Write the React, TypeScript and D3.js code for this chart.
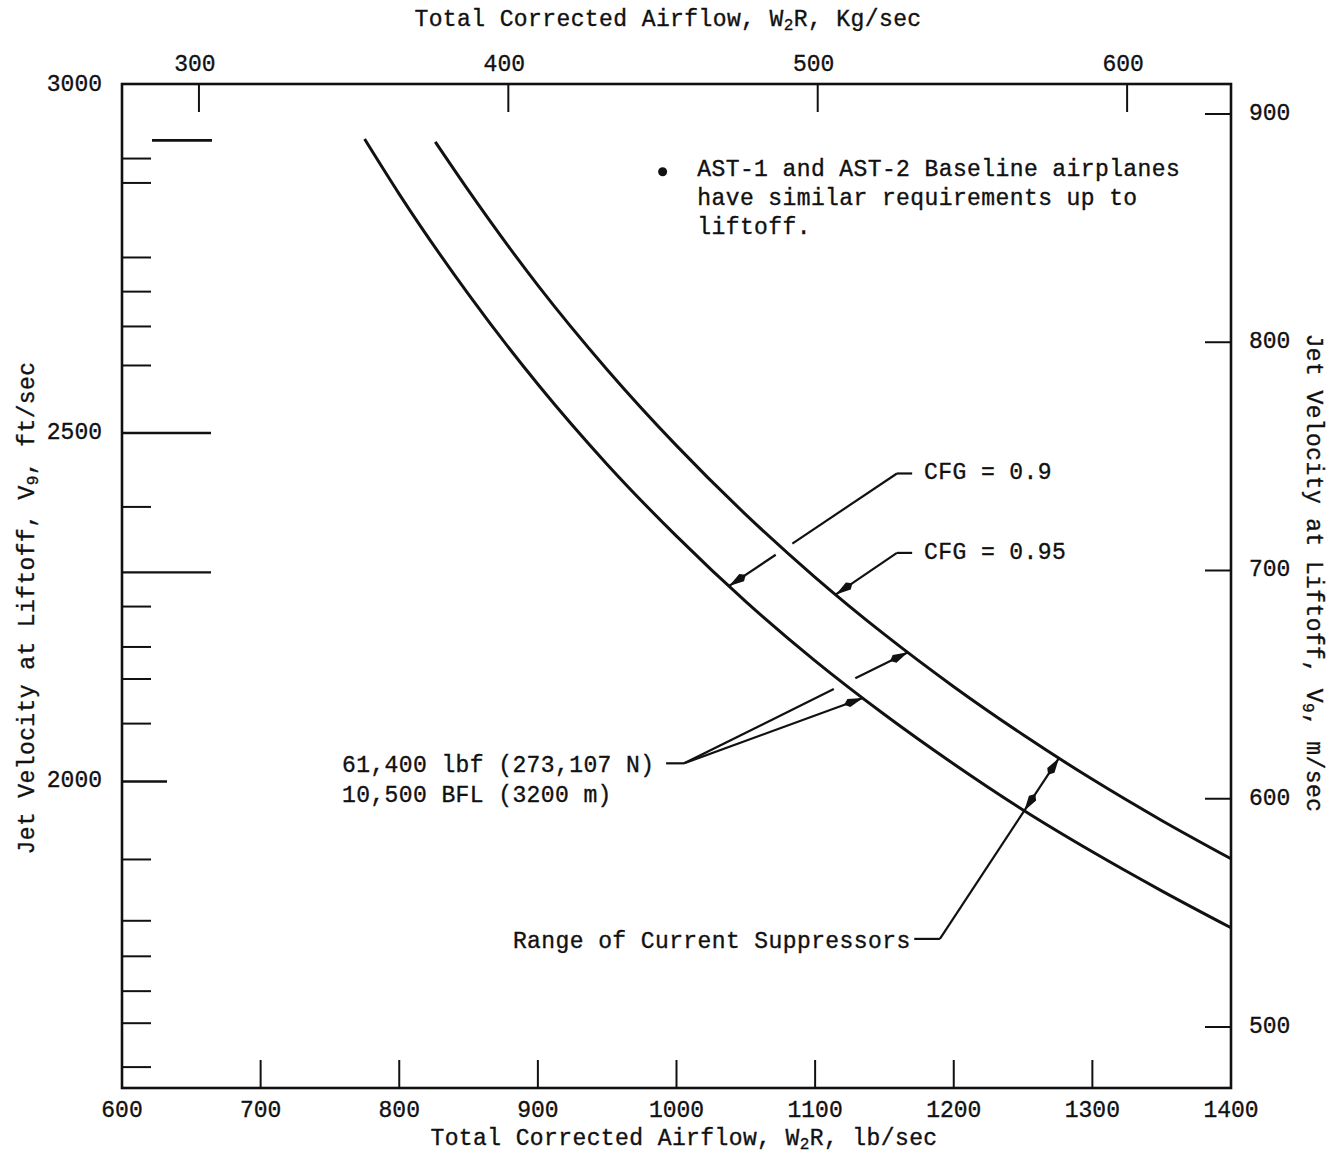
import React from 'react';
import * as d3 from 'd3';

// ---------- data ----------
const bottomTickLabels = [600, 700, 800, 900, 1000, 1100, 1200, 1300, 1400];
const bottomTickMarks = [700, 800, 900, 1000, 1100, 1200, 1300];
const topTickLabels = [300, 400, 500, 600];
const rightTickLabels = [900, 800, 700, 600, 500];
const leftTickLabels = [3000, 2500, 2000];
const leftShortTicks = [2894, 2859, 2752, 2703, 2653, 2597, 2394, 2251, 2193, 2147, 2083, 1888, 1800, 1749, 1699, 1653, 1590];
const leftLongTicks = [2500, 2300];
const leftMidTicks = [2000];
const leftDashTicks = [2920];

// CFG = 0.9 (lower curve): airflow lb/sec, jet velocity ft/sec
const cfg09Airflow = [775, 800, 850, 900, 950, 1000, 1050, 1100, 1150, 1200, 1250, 1300, 1350, 1400];
const cfg09Velocity = [2922, 2843, 2699, 2570, 2455, 2352, 2258, 2173, 2096, 2025, 1959, 1899, 1843, 1790];
// CFG = 0.95 (upper curve)
const cfg095Airflow = [826, 850, 900, 950, 1000, 1050, 1100, 1150, 1200, 1250, 1300, 1350, 1400];
const cfg095Velocity = [2918, 2848, 2712, 2591, 2482, 2383, 2293, 2211, 2136, 2067, 2003, 1944, 1889];

const noteLines = ['AST-1 and AST-2 Baseline airplanes', 'have similar requirements up to', 'liftoff.'];
const thrustLines = ['61,400 lbf (273,107 N)', '10,500 BFL (3200 m)'];

const FONT = "'Liberation Mono', 'DejaVu Sans Mono', monospace";
const INK = '#111';

function interp(ws: number[], vs: number[], w: number) {
  if (w <= ws[0]) return vs[0];
  for (let i = 0; i < ws.length - 1; i++) {
    if (w >= ws[i] && w <= ws[i + 1]) {
      const t = (w - ws[i]) / (ws[i + 1] - ws[i]);
      return vs[i] + t * (vs[i + 1] - vs[i]);
    }
  }
  return vs[vs.length - 1];
}

export default function App() {
  const x = d3.scaleLinear().domain([600, 1400]).range([122, 1231]);
  const y = d3.scaleLinear().domain([1560, 3001]).range([1088, 84]);
  const xKg = d3.scaleLinear().domain([275.13, 633.58]).range([122, 1231]);
  const yMs = d3.scaleLinear().domain([473.27, 913.14]).range([1088, 84]);

  const left = x(600), right = x(1400), top = y(3001), bottom = y(1560);

  const line = d3
    .line<[number, number]>()
    .x((d) => x(d[0]))
    .y((d) => y(d[1]))
    .curve(d3.curveMonotoneX);

  const lowerPts = cfg09Airflow.map((w, i) => [w, cfg09Velocity[i]] as [number, number]);
  const upperPts = cfg095Airflow.map((w, i) => [w, cfg095Velocity[i]] as [number, number]);

  const onLower = (w: number) => [x(w), y(interp(cfg09Airflow, cfg09Velocity, w))];
  const onUpper = (w: number) => [x(w), y(interp(cfg095Airflow, cfg095Velocity, w))];

  const crossing = (p0: number[], p1: number[], ws: number[], vs: number[]) => {
    const f = (t: number) => {
      const px = p0[0] + t * (p1[0] - p0[0]);
      const py = p0[1] + t * (p1[1] - p0[1]);
      return py - y(interp(ws, vs, x.invert(px)));
    };
    let prev = f(0);
    for (let i = 1; i <= 400; i++) {
      const t = i / 400;
      const cur = f(t);
      if (Math.sign(cur) !== Math.sign(prev)) {
        const tt = (i - 1) / 400 + (prev / (prev - cur)) / 400;
        return [p0[0] + tt * (p1[0] - p0[0]), p0[1] + tt * (p1[1] - p0[1])];
      }
      prev = cur;
    }
    return null;
  };

  const arrowHead = (tip: number[], from: number[], L = 20, hw = 4.3) => {
    const dx = tip[0] - from[0], dy = tip[1] - from[1];
    const len = Math.hypot(dx, dy);
    const ux = dx / len, uy = dy / len;
    const nx = -uy, ny = ux;
    const bx = tip[0] - ux * L * 0.75, by = tip[1] - uy * L * 0.75;
    const ex = tip[0] - ux * L, ey = tip[1] - uy * L;
    return `M${tip[0]},${tip[1]}L${bx + nx * hw},${by + ny * hw}L${ex},${ey}L${bx - nx * hw},${by - ny * hw}Z`;
  };

  const segWithGap = (p0: number[], p1: number[], c: number[] | null, gap = 10) => {
    if (!c) return [[p0, p1]];
    const dx = p1[0] - p0[0], dy = p1[1] - p0[1];
    const len = Math.hypot(dx, dy);
    const ux = dx / len, uy = dy / len;
    return [
      [p0, [c[0] - ux * gap, c[1] - uy * gap]],
      [[c[0] + ux * gap, c[1] + uy * gap], p1],
    ];
  };

  const lines: number[][][] = [];
  const heads: string[] = [];

  // CFG = 0.9 leader
  const c09Dash = [[x(1159), y(2442)], [x(1170), y(2442)]];
  lines.push(c09Dash);
  const c09Tip = onLower(1038);
  const c09Cross = crossing(c09Dash[0], c09Tip, cfg095Airflow, cfg095Velocity);
  segWithGap(c09Dash[0], c09Tip, c09Cross, 10).forEach((s) => lines.push(s));
  heads.push(arrowHead(c09Tip, c09Dash[0]));

  // CFG = 0.95 leader
  const c095Dash = [[x(1159), y(2328)], [x(1170), y(2328)]];
  lines.push(c095Dash);
  const c095Tip = onUpper(1115);
  lines.push([c095Dash[0], c095Tip]);
  heads.push(arrowHead(c095Tip, c095Dash[0]));

  // Thrust leader
  const thDash = [[x(992.5), y(2026)], [x(1005.5), y(2026)]];
  lines.push(thDash);
  const thTipUp = onUpper(1167);
  const thTipLo = onLower(1134.5);
  const thCross = crossing(thDash[1], thTipUp, cfg09Airflow, cfg09Velocity);
  segWithGap(thDash[1], thTipUp, thCross, 12).forEach((s) => lines.push(s));
  lines.push([thDash[1], thTipLo]);
  heads.push(arrowHead(thTipUp, thDash[1]));
  heads.push(arrowHead(thTipLo, thDash[1]));

  // Range of current suppressors leader
  const rgDash = [[x(1171.5), y(1774)], [x(1190), y(1774)]];
  lines.push(rgDash);
  const rgTipUp = onUpper(1276);
  lines.push([rgDash[1], rgTipUp]);
  const rgCross = crossing(rgDash[1], rgTipUp, cfg09Airflow, cfg09Velocity);
  if (rgCross) {
    heads.push(arrowHead(rgCross, rgTipUp));
  }
  heads.push(arrowHead(rgTipUp, rgDash[1]));

  const tickStyle = { stroke: INK, strokeWidth: 2 };
  const textStyle: React.CSSProperties = {
    fontFamily: FONT,
    fontSize: 23,
    letterSpacing: 0.4,
    fill: INK,
    stroke: INK,
    strokeWidth: 0.35,
  };
  const numStyle: React.CSSProperties = {
    fontFamily: FONT,
    fontSize: 23,
    letterSpacing: 0,
    fill: INK,
    stroke: INK,
    strokeWidth: 0.35,
  };

  return (
    <svg width={1330} height={1159} style={{ position: 'absolute', left: 0, top: 0, background: '#fff' }}>
      <rect x={0} y={0} width={1330} height={1159} fill="#fff" />
      {/* frame */}
      <rect x={left} y={top} width={right - left} height={bottom - top} fill="none" stroke={INK} strokeWidth={2.6} />

      {/* bottom ticks */}
      {bottomTickMarks.map((t) => (
        <line key={'bt' + t} x1={x(t)} x2={x(t)} y1={bottom} y2={bottom - 28} {...tickStyle} />
      ))}
      {bottomTickLabels.map((t) => (
        <text key={'bl' + t} x={x(t)} y={y(1560) + 23} textAnchor="middle" dominantBaseline="central" style={numStyle}>
          {t}
        </text>
      ))}

      {/* top ticks (kg/sec) */}
      {topTickLabels.map((t) => (
        <g key={'tt' + t}>
          <line x1={xKg(t)} x2={xKg(t)} y1={top} y2={top + 28} {...tickStyle} />
          <text x={xKg(t) - 4} y={top - 19} textAnchor="middle" dominantBaseline="central" style={numStyle}>
            {t}
          </text>
        </g>
      ))}

      {/* right ticks (m/sec) */}
      {rightTickLabels.map((t) => (
        <g key={'rt' + t}>
          <line x1={right} x2={right - 26} y1={yMs(t)} y2={yMs(t)} {...tickStyle} />
          <text x={right + 18} y={yMs(t)} dominantBaseline="central" style={numStyle}>
            {t}
          </text>
        </g>
      ))}

      {/* left ticks (ft/sec) */}
      {leftShortTicks.map((t) => (
        <line key={'ls' + t} x1={left} x2={left + 29} y1={y(t)} y2={y(t)} {...tickStyle} />
      ))}
      {leftLongTicks.map((t) => (
        <line key={'ll' + t} x1={left} x2={left + 89} y1={y(t)} y2={y(t)} stroke={INK} strokeWidth={2.4} />
      ))}
      {leftMidTicks.map((t) => (
        <line key={'lm' + t} x1={left} x2={left + 45} y1={y(t)} y2={y(t)} stroke={INK} strokeWidth={2.4} />
      ))}
      {leftDashTicks.map((t) => (
        <line key={'ld' + t} x1={left + 30} x2={left + 90} y1={y(t)} y2={y(t)} stroke={INK} strokeWidth={2.8} />
      ))}
      {leftTickLabels.map((t) => (
        <text key={'lt' + t} x={left - 20} y={y(t)} textAnchor="end" dominantBaseline="central" style={numStyle}>
          {t}
        </text>
      ))}

      {/* axis titles */}
      <text x={668} y={20} textAnchor="middle" dominantBaseline="central" style={textStyle}>
        Total Corrected Airflow, W<tspan fontSize={16} dy={6}>2</tspan>
        <tspan dy={-6}>R, Kg/sec</tspan>
      </text>
      <text x={684} y={1139} textAnchor="middle" dominantBaseline="central" style={textStyle}>
        Total Corrected Airflow, W<tspan fontSize={16} dy={6}>2</tspan>
        <tspan dy={-6}>R, lb/sec</tspan>
      </text>
      <text transform={`translate(28,608) rotate(-90)`} textAnchor="middle" dominantBaseline="central" style={textStyle}>
        Jet Velocity at Liftoff, V<tspan fontSize={16} dy={6}>9</tspan>
        <tspan dy={-6}>, ft/sec</tspan>
      </text>
      <text transform={`translate(1313,573) rotate(90)`} textAnchor="middle" dominantBaseline="central" style={textStyle}>
        Jet Velocity at Liftoff, V<tspan fontSize={16} dy={6}>9</tspan>
        <tspan dy={-6}>, m/sec</tspan>
      </text>

      {/* curves */}
      <path d={line(lowerPts) || ''} fill="none" stroke={INK} strokeWidth={3} />
      <path d={line(upperPts) || ''} fill="none" stroke={INK} strokeWidth={3} />

      {/* leaders */}
      {lines.map((s, i) => (
        <line key={'ld' + i} x1={s[0][0]} y1={s[0][1]} x2={s[1][0]} y2={s[1][1]} stroke={INK} strokeWidth={2.2} />
      ))}
      {heads.map((d, i) => (
        <path key={'ah' + i} d={d} fill={INK} />
      ))}

      {/* annotations */}
      <circle cx={x(990)} cy={y(2875)} r={4.5} fill={INK} />
      {noteLines.map((s, i) => (
        <text key={'n' + i} x={x(1015)} y={y(2877) + i * 29} dominantBaseline="central" style={textStyle}>
          {s}
        </text>
      ))}
      <text x={x(1178.6)} y={y(2442)} dominantBaseline="central" style={textStyle}>
        CFG = 0.9
      </text>
      <text x={x(1178.6)} y={y(2328)} dominantBaseline="central" style={textStyle}>
        CFG = 0.95
      </text>
      {thrustLines.map((s, i) => (
        <text key={'t' + i} x={x(758.7)} y={y(2022) + i * 30} dominantBaseline="central" style={textStyle}>
          {s}
        </text>
      ))}
      <text x={x(882)} y={y(1769.5)} dominantBaseline="central" style={textStyle}>
        Range of Current Suppressors
      </text>
    </svg>
  );
}
